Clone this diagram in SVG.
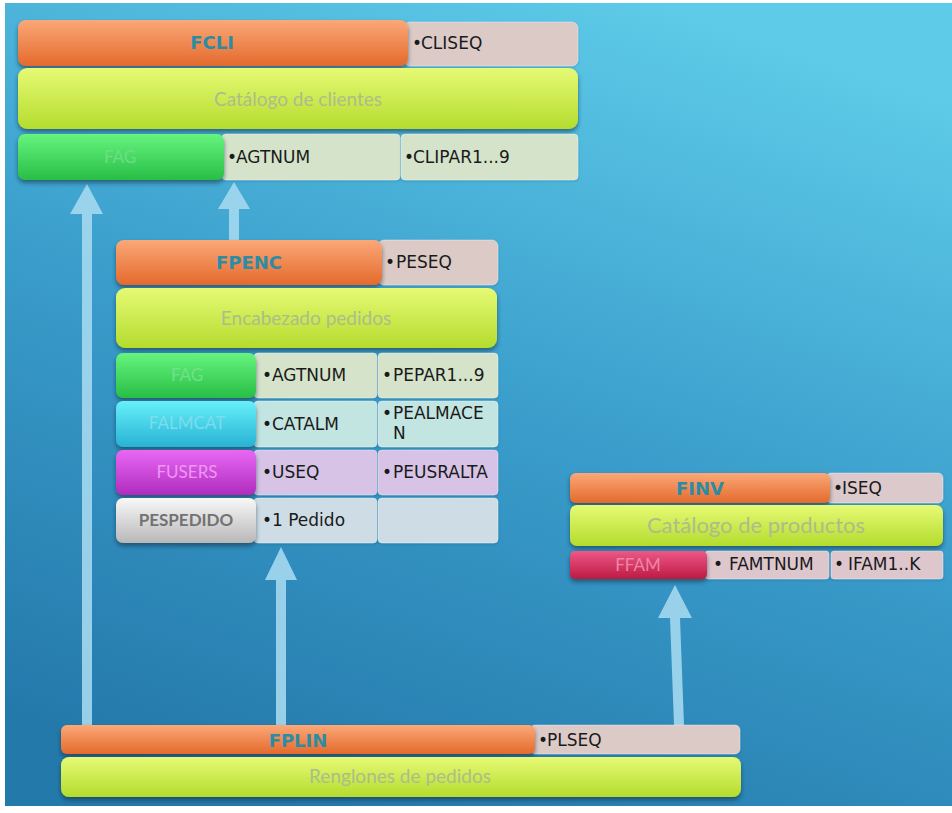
<svg xmlns="http://www.w3.org/2000/svg" width="952" height="813" viewBox="0 0 952 813">
<defs>
<linearGradient id="bg" x1="0.7" y1="0" x2="0.3" y2="1">
<stop offset="0" stop-color="#5ECBE8"/>
<stop offset="0.5" stop-color="#3A9DCB"/>
<stop offset="1" stop-color="#2479AB"/>
</linearGradient>
<linearGradient id="gOr" x1="0" y1="0" x2="0" y2="1">
<stop offset="0" stop-color="#FBA878"/>
<stop offset="1" stop-color="#E46A2C"/>
</linearGradient>
<linearGradient id="gLi" x1="0" y1="0" x2="0" y2="1">
<stop offset="0" stop-color="#E6FA74"/>
<stop offset="1" stop-color="#B4DC2E"/>
</linearGradient>
<linearGradient id="gGr" x1="0" y1="0" x2="0" y2="1">
<stop offset="0" stop-color="#66F47E"/>
<stop offset="1" stop-color="#28BE46"/>
</linearGradient>
<linearGradient id="gCy" x1="0" y1="0" x2="0" y2="1">
<stop offset="0" stop-color="#66F0FA"/>
<stop offset="1" stop-color="#28B2D4"/>
</linearGradient>
<linearGradient id="gMa" x1="0" y1="0" x2="0" y2="1">
<stop offset="0" stop-color="#E868F4"/>
<stop offset="1" stop-color="#B02CBE"/>
</linearGradient>
<linearGradient id="gWh" x1="0" y1="0" x2="0" y2="1">
<stop offset="0" stop-color="#F8F8F8"/>
<stop offset="1" stop-color="#B8B8B8"/>
</linearGradient>
<linearGradient id="gRe" x1="0" y1="0" x2="0" y2="1">
<stop offset="0" stop-color="#EE5886"/>
<stop offset="1" stop-color="#BC1A44"/>
</linearGradient>
<filter id="sh" x="-5%" y="-20%" width="110%" height="150%">
<feDropShadow dx="0" dy="3" stdDeviation="2" flood-color="#0A2A3A" flood-opacity="0.55"/>
</filter>
<filter id="shl" x="-5%" y="-20%" width="110%" height="150%">
<feDropShadow dx="0" dy="1" stdDeviation="1" flood-color="#0A2A3A" flood-opacity="0.25"/>
</filter>
</defs>
<style>
.bar{filter:url(#sh);}
.cell{filter:url(#shl);stroke:#FFFFFF;stroke-opacity:0.35;stroke-width:1;}
.t{font-family:"DejaVu Sans","Liberation Sans",sans-serif;font-size:17px;fill:#1A1A1A;}
.ti{font-family:"DejaVu Sans","Liberation Sans",sans-serif;font-size:18px;font-weight:bold;fill:#2D8CA5;text-anchor:middle;}
.gl{font-family:Lato,"DejaVu Sans",sans-serif;fill:#ABBD8C;text-anchor:middle;}
.fa{font-family:Lato,"DejaVu Sans",sans-serif;font-size:17px;text-anchor:middle;}
.arr{fill:#A4D8EE;fill-opacity:0.9;}
</style>

<rect x="0" y="0" width="952" height="813" fill="#FFFFFF"/>
<rect x="5" y="3" width="947" height="803" fill="url(#bg)"/>

<g id="connectors">
<polygon class="arr" points="82,725 82,214 70,214 87,184 103,214 92,214 92,725"/>
<polygon class="arr" points="229,240 229,209 218,209 234,182 250,209 239,209 239,240"/>
<polygon class="arr" points="276,725 276,580 265,580 281,547 297,580 286,580 286,725"/>
<polygon class="arr" points="674,725 670,618 658,618 675,585 692,618 680,618 684,725"/>
</g>

<g id="FCLI">
<rect class="cell" x="404" y="22" width="174" height="44" rx="6" fill="#DCCAC7"/>
<rect class="bar" x="18" y="20" width="390" height="46" rx="8" fill="url(#gOr)"/>
<text class="ti" x="212" y="49">FCLI</text>
<text class="t" x="412" y="49">•<tspan x="421">CLISEQ</tspan></text>
<rect class="bar" x="18" y="68" width="560" height="61" rx="9" fill="url(#gLi)"/>
<text class="gl" x="298" y="106" font-size="19">Catálogo de clientes</text>
<rect class="cell" x="222" y="134" width="178" height="46" rx="4" fill="#D4E3CA"/>
<rect class="cell" x="401" y="134" width="177" height="46" rx="4" fill="#D4E3CA"/>
<rect class="bar" x="18" y="134" width="206" height="46" rx="7" fill="url(#gGr)"/>
<text class="fa" x="120" y="163" fill="#6EDD86">FAG</text>
<text class="t" x="227" y="163">•<tspan x="236">AGTNUM</tspan></text>
<text class="t" x="404" y="163">•<tspan x="413">CLIPAR1...9</tspan></text>
</g>

<g id="FPENC">
<rect class="cell" x="378" y="240" width="120" height="45" rx="6" fill="#DCCAC7"/>
<rect class="bar" x="116" y="240" width="266" height="45" rx="8" fill="url(#gOr)"/>
<text class="ti" x="249" y="269">FPENC</text>
<text class="t" x="385" y="268">•<tspan x="396">PESEQ</tspan></text>
<rect class="bar" x="116" y="288" width="381" height="60" rx="9" fill="url(#gLi)"/>
<text class="gl" x="306" y="325" font-size="19">Encabezado pedidos</text>

<rect class="cell" x="254" y="353" width="123" height="45" rx="4" fill="#D4E3CA"/>
<rect class="cell" x="378" y="353" width="120" height="45" rx="4" fill="#D4E3CA"/>
<rect class="bar" x="116" y="353" width="140" height="45" rx="7" fill="url(#gGr)"/>
<text class="fa" x="187" y="381" fill="#72E08A">FAG</text>
<text class="t" x="262" y="381">•<tspan x="272">AGTNUM</tspan></text>
<text class="t" x="382" y="381">•<tspan x="393">PEPAR1...9</tspan></text>

<rect class="cell" x="254" y="401" width="123" height="46" rx="4" fill="#C2E5E1"/>
<rect class="cell" x="378" y="401" width="120" height="46" rx="4" fill="#C2E5E1"/>
<rect class="bar" x="116" y="401" width="140" height="46" rx="7" fill="url(#gCy)"/>
<text class="fa" x="187" y="429" fill="#7CDDEC">FALMCAT</text>
<text class="t" x="262" y="430">•<tspan x="272">CATALM</tspan></text>
<text class="t" x="382" y="419">•<tspan x="393">PEALMACE</tspan><tspan x="393" y="439">N</tspan></text>

<rect class="cell" x="254" y="450" width="123" height="45" rx="4" fill="#D7C3E6"/>
<rect class="cell" x="378" y="450" width="120" height="45" rx="4" fill="#D7C3E6"/>
<rect class="bar" x="116" y="450" width="140" height="45" rx="7" fill="url(#gMa)"/>
<text class="fa" x="187" y="478" fill="#EC98F4">FUSERS</text>
<text class="t" x="262" y="478">•<tspan x="272">USEQ</tspan></text>
<text class="t" x="382" y="478">•<tspan x="393">PEUSRALTA</tspan></text>

<rect class="cell" x="254" y="498" width="123" height="45" rx="4" fill="#CEDDE5"/>
<rect class="cell" x="378" y="498" width="120" height="45" rx="4" fill="#CEDDE5"/>
<rect class="bar" x="116" y="498" width="140" height="45" rx="7" fill="url(#gWh)"/>
<text class="fa" x="186" y="526" fill="#727272" font-weight="bold" font-size="16">PESPEDIDO</text>
<text class="t" x="262" y="526">•<tspan x="272">1 Pedido</tspan></text>
</g>

<g id="FINV">
<rect class="cell" x="826" y="473" width="117" height="30" rx="5" fill="#DCC9CB"/>
<rect class="bar" x="570" y="473" width="260" height="30" rx="6" fill="url(#gOr)"/>
<text class="ti" x="700" y="495">FINV</text>
<text class="t" x="833" y="494">•<tspan x="842">ISEQ</tspan></text>
<rect class="bar" x="570" y="505" width="373" height="41" rx="7" fill="url(#gLi)"/>
<text class="gl" x="756" y="533" font-size="22">Catálogo de productos</text>
<rect class="cell" x="705" y="551" width="124" height="28" rx="3" fill="#DDC7CD"/>
<rect class="cell" x="831" y="551" width="112" height="28" rx="3" fill="#DDC7CD"/>
<rect class="bar" x="570" y="551" width="137" height="28" rx="5" fill="url(#gRe)"/>
<text class="fa" x="638" y="571" fill="#EE86A6">FFAM</text>
<text class="t" x="713" y="570">•<tspan x="729">FAMTNUM</tspan></text>
<text class="t" x="834" y="570">•<tspan x="848">IFAM1..K</tspan></text>
</g>

<g id="FPLIN">
<rect class="cell" x="530" y="725" width="210" height="29" rx="5" fill="#DCCAC7"/>
<rect class="bar" x="61" y="725" width="474" height="29" rx="6" fill="url(#gOr)"/>
<text class="ti" x="298" y="747">FPLIN</text>
<text class="t" x="538" y="746" font-size="16">•<tspan x="547">PLSEQ</tspan></text>
<rect class="bar" x="61" y="757" width="680" height="40" rx="8" fill="url(#gLi)"/>
<text class="gl" x="400" y="783" font-size="19">Renglones de pedidos</text>
</g>
</svg>
